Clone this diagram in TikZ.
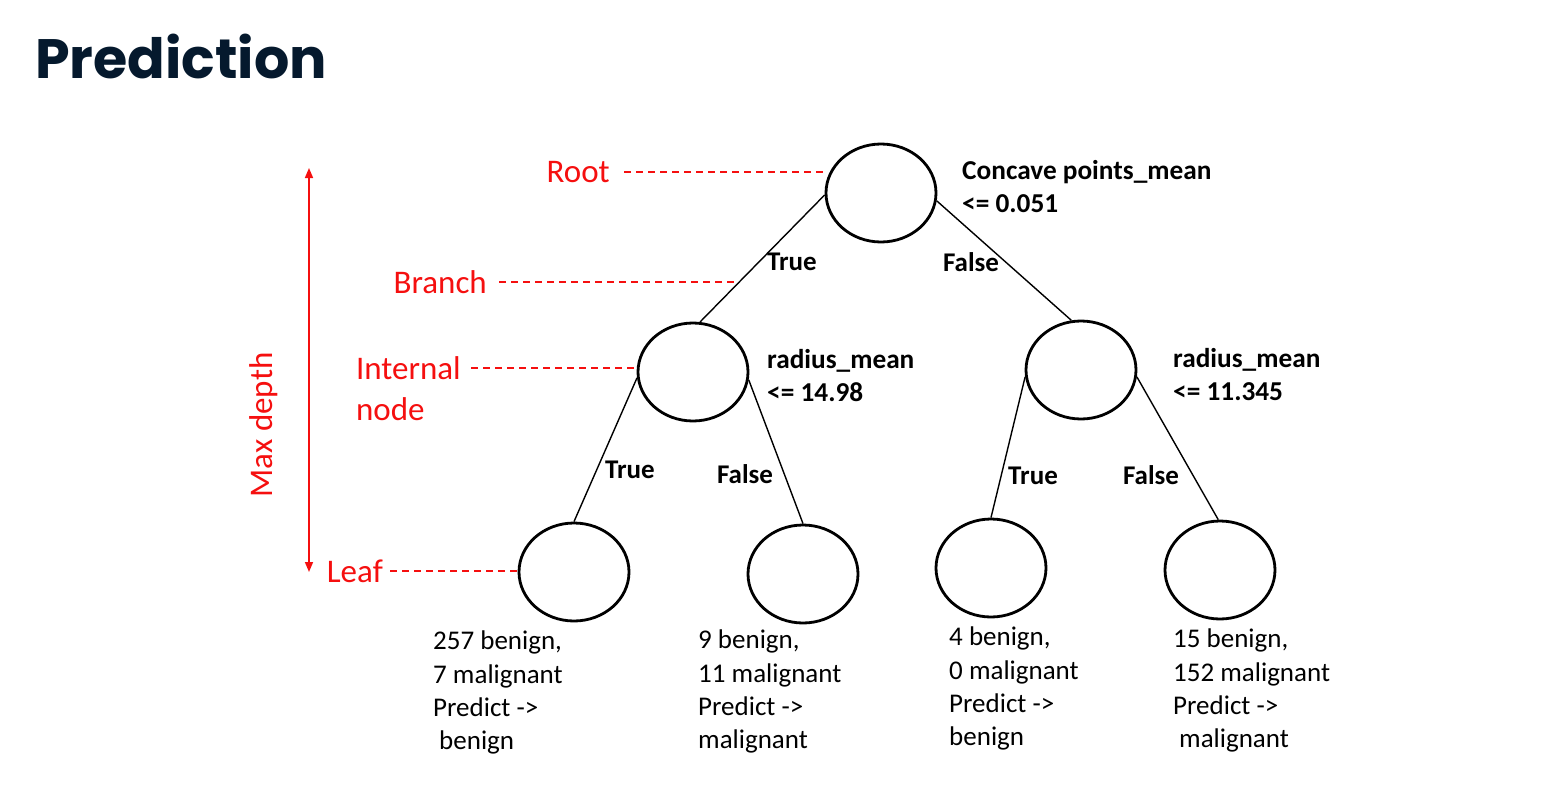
\documentclass[tikz,border=0pt]{standalone}
\usepackage{fontspec}
\setmainfont{Carlito}
\newfontfamily\titlefont{Poppins}
\usetikzlibrary{shapes.geometric,arrows.meta}
\definecolor{redlbl}{RGB}{245,15,15}
\definecolor{navy}{RGB}{5,25,45}
\begin{document}
\begin{tikzpicture}[x=1pt,y=-1pt,
  treenode/.style={ellipse, draw, line width=2.8pt, minimum width=110pt, minimum height=98pt, inner sep=0pt},
  edge/.style={line width=1.4pt},
  cond/.style={anchor=north west, align=left, inner sep=0pt, font=\fontsize{27.3}{33}\selectfont\bfseries},
  edgelbl/.style={inner sep=0pt, font=\fontsize{27}{30}\selectfont\bfseries},
  leaftxt/.style={anchor=north west, align=left, inner sep=0pt, font=\fontsize{27}{33.3}\selectfont},
  partlbl/.style={text=redlbl, inner sep=0pt, font=\fontsize{33}{40}\selectfont},
  pointer/.style={draw=redlbl, line width=1.6pt, dash pattern=on 7pt off 5pt},
]
\useasboundingbox (0,0) rectangle (1564,790);
\node[anchor=base west, inner sep=0pt, text=navy, font=\titlefont\bfseries\fontsize{55.5}{60}\selectfont] (title) at (35,78) {Prediction};

% tree nodes
\node[treenode] (root) at (881,193) {};
\node[treenode] (li) at (693,372) {};
\node[treenode] (ri) at (1081,370) {};
\node[treenode] (ll) at (574,572) {};
\node[treenode] (lr) at (803,574) {};
\node[treenode] (rl) at (991,568) {};
\node[treenode] (rr) at (1220,570) {};

% edges
\draw[edge] (root.182) -- coordinate[pos=0.69] (brpt) (li.82);
\draw[edge] (root.-8) -- (ri.101);
\draw[edge] (li.186) -- (ll.90);
\draw[edge] (li.-8) -- (lr.90);
\draw[edge] (ri.187) -- (rl.90);
\draw[edge] (ri.-7) -- (rr.92);

% edge labels
\node[edgelbl] (t1) at (792,262) {True};
\node[edgelbl] (f1) at (971,262) {False};
\node[edgelbl] (t2) at (630,470) {True};
\node[edgelbl] (f2) at (745,474) {False};
\node[edgelbl] (t3) at (1033,476) {True};
\node[edgelbl] (f3) at (1151,475) {False};

% split conditions
\node[cond] (c0) at (962,160) {Concave points\_mean\\<= 0.051};
\node[cond] (c1) at (767,349) {radius\_mean\\<= 14.98};
\node[cond] (c2) at (1173,348) {radius\_mean\\<= 11.345};

% part labels
\node[partlbl, anchor=east] (rootlbl) at (610,172) {Root};
\draw[pointer] ([xshift=14pt]rootlbl.east) -- (rootlbl.east -| root.west);
\node[partlbl, anchor=east] (brlbl) at (487,282) {Branch};
\draw[pointer] ([xshift=12pt]brlbl.east) -- (brlbl.east -| brpt);
\node[partlbl, anchor=east] (intlbl) at (461,368) {Internal};
\draw[pointer] ([xshift=10pt]intlbl.east) -- (intlbl.east -| li.west);
\node[partlbl, anchor=base west] (nodelbl) at ([yshift=-41pt]intlbl.base west) {node};
\node[partlbl, anchor=east] (leaflbl) at (383,571) {Leaf};
\draw[pointer] ([xshift=7pt]leaflbl.east) -- (leaflbl.east -| ll.west);

% max depth
\coordinate (mdtop) at (309,168);
\coordinate (mdbot) at (309,572);
\draw[redlbl, line width=1.6pt, {Triangle[length=10pt,width=8pt]}-{Triangle[length=10pt,width=8pt]}] (mdtop) -- (mdbot);
\node[partlbl, rotate=90] (mdlbl) at (264,425) {Max depth};

% leaf texts
\node[leaftxt] (lltxt) at (433,631) {257 benign,\\7 malignant\\Predict ->\\\hspace*{6pt}benign};
\node[leaftxt] (lrtxt) at (698,630) {9 benign,\\11 malignant\\Predict ->\\malignant};
\node[leaftxt] (rltxt) at (949,627) {4 benign,\\0 malignant\\Predict ->\\benign};
\node[leaftxt] (rrtxt) at (1173,629) {15 benign,\\152 malignant\\Predict ->\\\hspace*{6pt}malignant};
\end{tikzpicture}
\end{document}
